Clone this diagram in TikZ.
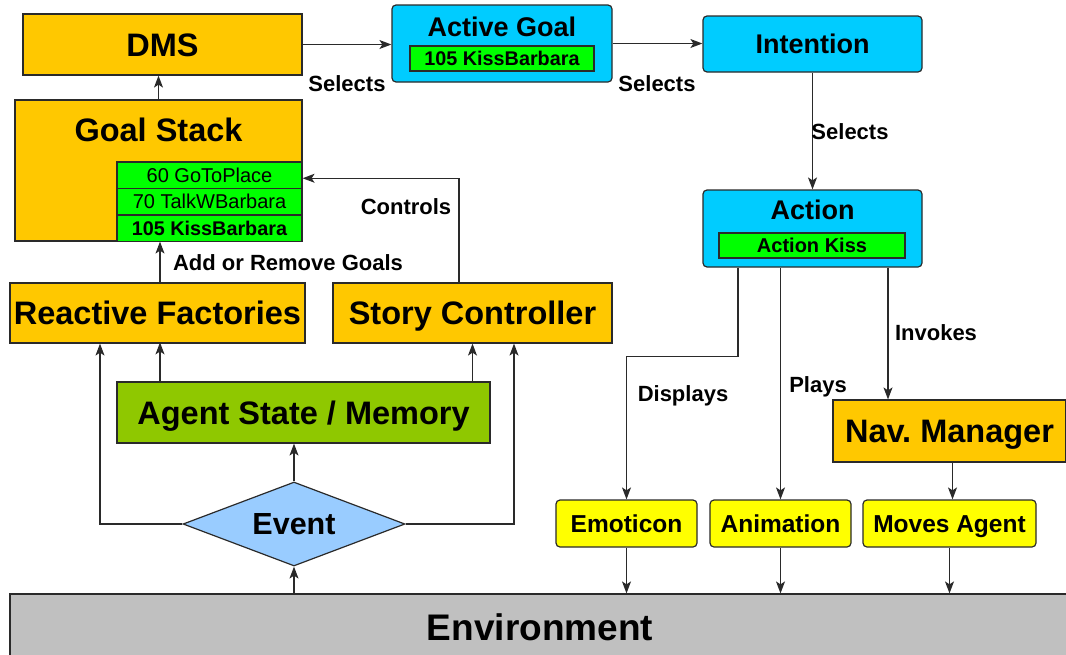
\documentclass[tikz,border=0pt]{standalone}
\usepackage{fontspec}
\setmainfont{Liberation Sans}
\usetikzlibrary{shapes.geometric,arrows.meta,calc}
\definecolor{orng}{HTML}{FFC800}
\definecolor{cyn}{HTML}{00CCFF}
\definecolor{grn}{HTML}{00FF00}
\definecolor{agrn}{HTML}{8FC800}
\definecolor{evb}{HTML}{99CCFF}
\definecolor{ylw}{HTML}{FFFF00}
\definecolor{envg}{HTML}{C0C0C0}
\definecolor{ln}{HTML}{2A2A2A}
\newcommand{\fs}[1]{\fontsize{#1}{#1}\selectfont}
\tikzset{
  fb/.style={font=\fs{#1}\bfseries, text height=0.72*#1pt, text depth=0pt},
  fr/.style={font=\fs{#1}, text height=0.72*#1pt, text depth=0pt},
  box/.style={draw=ln, line width=1.2pt, inner sep=0pt, anchor=center},
  obox/.style={box, fill=orng, fb=32.5},
  cbox/.style={box, fill=cyn, rounded corners=4pt},
  gbox/.style={box, fill=grn, minimum width=185pt, minimum height=26.5pt, fr=20},
  ybox/.style={box, fill=ylw, rounded corners=4pt, minimum height=47pt, fb=24.5},
  lbl/.style={inner sep=0pt, fb=22},
  arr/.style={draw=ln, line width=1.2pt, -{Stealth[length=12pt,width=9pt,inset=3pt]}}
}
\begin{document}
\begin{tikzpicture}[x=1pt,y=-1pt]
\useasboundingbox (0,0) rectangle (1066,654);
% left column
\node[obox, minimum width=279pt, minimum height=61pt] (dms) at (162.5,44.5) {DMS};
\node[obox, minimum width=287pt, minimum height=141pt] (gs) at (158.5,170.5) {};
\node[inner sep=0pt, fb=32.5] (gst) at (158.5,130) {Goal Stack};
\node[gbox] (r1) at (209.5,175.25) {60 GoToPlace};
\node[gbox] (r2) at (209.5,201.75) {70 TalkWBarbara};
\node[gbox, fb=19.8] (r3) at (209.5,228.25) {105 KissBarbara};
% top
\node[cbox, minimum width=220pt, minimum height=77pt] (ag) at (502,43.5) {};
\node[inner sep=0pt, fb=27] (agt) at (502,27) {Active Goal};
\node[box, fill=grn, minimum width=184pt, minimum height=25pt, fb=19.8] (agi) at (502,58.5) {105 KissBarbara};
\node[cbox, minimum width=219pt, minimum height=56pt, fb=27] (int) at (812.5,44) {Intention};
\node[cbox, minimum width=219pt, minimum height=77pt] (act) at (812.5,228.5) {};
\node[inner sep=0pt, fb=27] (actt) at (812.5,210) {Action};
\node[box, fill=grn, minimum width=186pt, minimum height=25pt, fb=20] (acti) at (812,245.5) {Action Kiss};
% middle left
\node[obox, minimum width=295pt, minimum height=60pt] (rf) at (157.5,313) {Reactive Factories};
\node[obox, minimum width=279pt, minimum height=60pt] (sc) at (472.5,313) {Story Controller};
\node[box, fill=agrn, minimum width=373pt, minimum height=61pt, fb=32.5] (mem) at (303.5,412.5) {Agent State / Memory};
\node[draw=ln, line width=1.2pt, fill=evb, diamond, aspect=2.6, inner sep=0pt, minimum width=222pt, minimum height=84pt, fb=30.5] (ev) at (294,524) {Event};
% environment
\node[box, fill=envg, minimum width=1080pt, minimum height=66pt] (env) at (550,627) {};
\node[inner sep=0pt, fb=37] (envt) at (540,627) {Environment};
% right
\node[obox, minimum width=233pt, minimum height=62pt] (nav) at (949.5,431) {Nav.\ Manager};
\node[ybox, minimum width=141pt] (emo) at (626.5,523.5) {Emoticon};
\node[ybox, minimum width=141pt] (anim) at (780.5,523.5) {Animation};
\node[ybox, minimum width=173pt] (mov) at (949.5,523.5) {Moves Agent};
% connectors
\draw[arr] (gs.north) -- (gs.north |- dms.south);
\draw[arr] (dms.east) -- (dms.east -| ag.west);
\draw[arr] (ag.east) -- (ag.east -| int.west);
\draw[arr] (int.south) -- (act.north);
\draw[arr] ([xshift=2.5pt]rf.north) -- ([xshift=2.5pt]rf.north |- gs.south);
\draw[arr] ([xshift=-13.5pt]sc.north) |- ([yshift=-3pt]r1.east);
\draw[arr] (mem.north -| rf.north) ++(2.5,0) -- ++(0,-39);
\draw[arr] (mem.north -| sc.north) -- (sc.south);
\draw[arr] (ev.north) -- (ev.north |- mem.south);
\draw[arr] (ev.west) -| ([xshift=-57.5pt]rf.south);
\draw[arr] (ev.east) -| ([xshift=41.5pt]sc.south);
\draw[arr] (ev.south |- env.north) -- (ev.south);
\draw[arr] ([xshift=-74.5pt]act.south) -- ++(0,89) -| (emo.north);
\draw[arr] (anim.north |- act.south) -- (anim.north);
\draw[arr] ([xshift=75.5pt]act.south) -- ([xshift=75.5pt]act.south |- nav.north);
\draw[arr] ([xshift=3pt]nav.south) -- ([xshift=3pt]mov.north);
\draw[arr] (emo.south) -- (emo.south |- env.north);
\draw[arr] (anim.south) -- (anim.south |- env.north);
\draw[arr] (mov.south) -- (mov.south |- env.north);
% labels
\node[lbl] (l1) at (347,84) {Selects};
\node[lbl] (l2) at (657,84) {Selects};
\node[lbl] (l3) at (850,132) {Selects};
\node[lbl] (l4) at (288,263) {Add or Remove Goals};
\node[lbl] (l5) at (406,207) {Controls};
\node[lbl] (l6) at (683,394) {Displays};
\node[lbl] (l7) at (818,385) {Plays};
\node[lbl] (l8) at (936,333) {Invokes};
\end{tikzpicture}
\end{document}
